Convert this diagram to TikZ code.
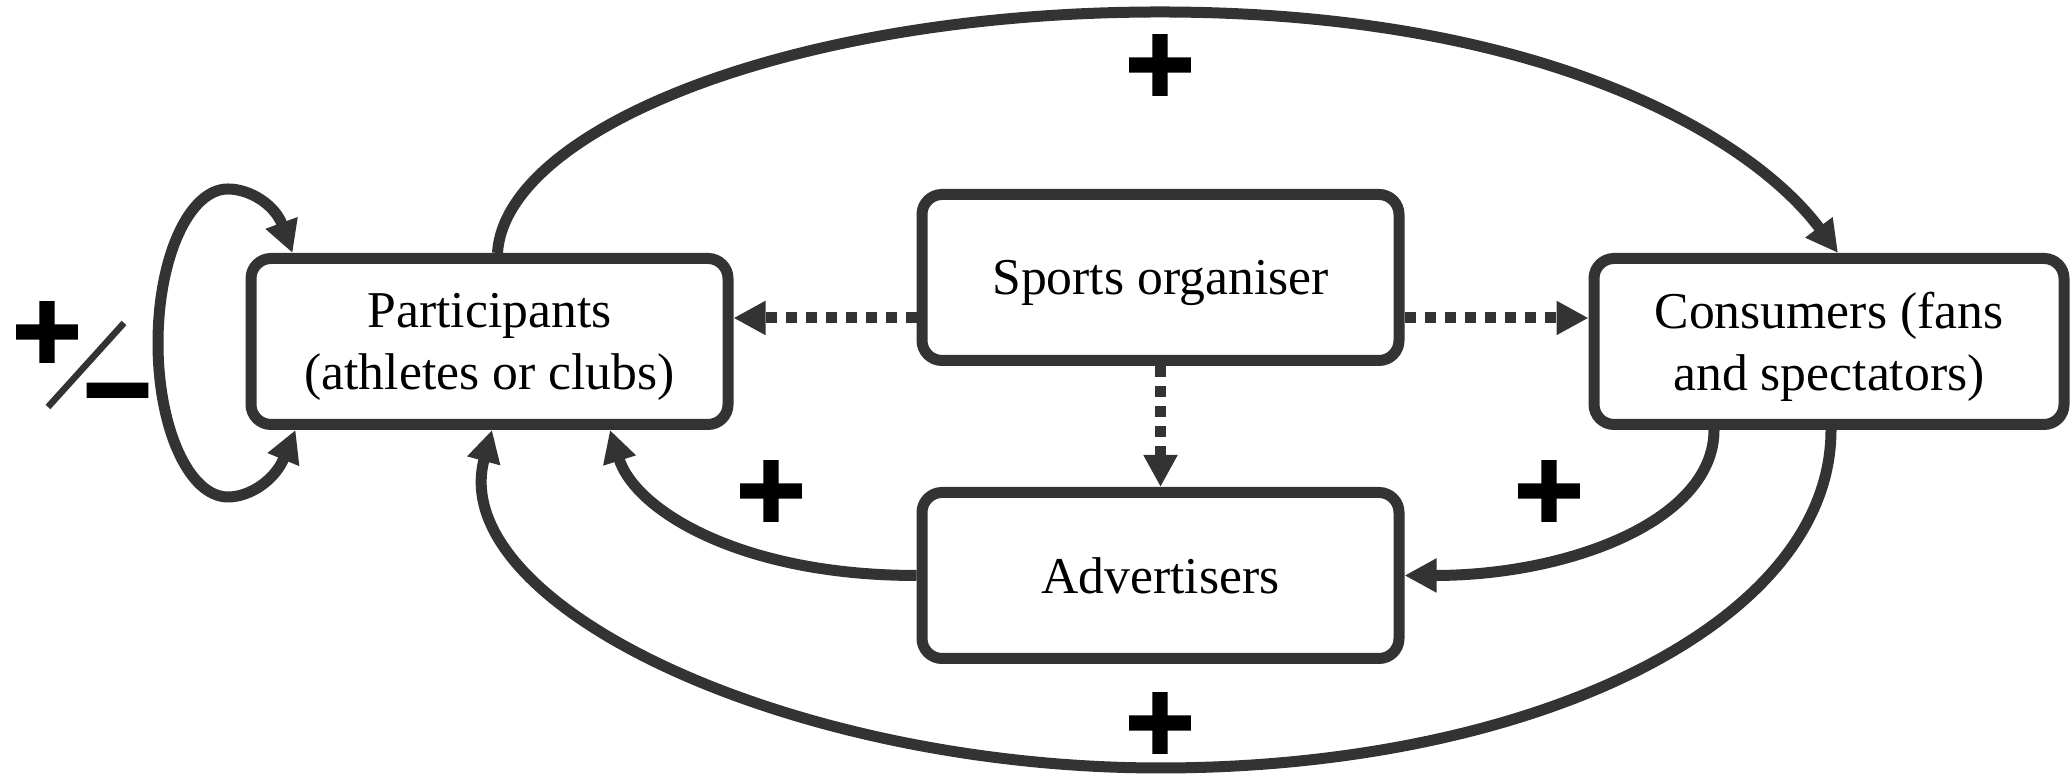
\documentclass[tikz,border=0pt]{standalone}
\usepackage{fontspec}
\setmainfont{Liberation Serif}
\newfontfamily\signfont{DejaVu Sans}[UprightFont={* Bold}, FakeBold=5]
\usetikzlibrary{arrows.meta}
\definecolor{edgegray}{HTML}{333333}

\begin{document}
\begin{tikzpicture}[
    >={Triangle[length=0.32cm,width=0.32cm]},
    box/.style={draw=edgegray, line width=0.11cm, rounded corners=0.2cm, fill=white,
        minimum width=4.77cm, minimum height=1.66cm, align=center, text depth=0pt,
        font=\fontsize{14.7}{17.6}\selectfont},
    link/.style={draw=edgegray, line width=0.11cm, ->},
    dotlink/.style={link, dash pattern=on 0.11cm off 0.09cm},
    sign/.style={font=\signfont\fontsize{26}{26}\selectfont, inner sep=0pt}
]
    \useasboundingbox (0,0) rectangle (20.7,7.75);
    \newcommand{\midx}{11.6}
    \newcommand{\dropy}{-0.405cm}

    % actors
    \node[box] (part) at (4.895,4.335) {Participants\\(athletes or clubs)};
    \node[box] (org) at (11.605,4.975) {Sports organiser};
    \node[box] (adv) at (11.605,1.995) {Advertisers};
    \node[box, minimum width=4.70cm] (cons) at (18.29,4.335) {Consumers (fans\\and spectators)};

    % organiser links
    \draw[dotlink] ([yshift=\dropy]org.west) -- ([yshift=\dropy]org.west -| part.east);
    \draw[dotlink] ([yshift=\dropy]org.east) -- ([yshift=\dropy]org.east -| cons.west);
    \draw[dotlink] (org.south) -- (adv.north);

    % big loops
    \draw[link] ([xshift=0.08cm]part.north) .. controls (5.05,6.45) and (7.9,7.63) .. (\midx,7.63)
        .. controls (15.4,7.63) and (17.5,6.4) .. ([xshift=0.09cm]cons.north);
    \draw[link] ([xshift=0.02cm]cons.south) .. controls (18.31,1.5) and (15.3,0.07) .. (\midx,0.07)
        .. controls (7.9,0.07) and (4.45,1.7) .. ([xshift=0.025cm]part.south);

    % via advertisers
    \draw[link] (adv.west) .. controls (7.4,1.995) and (6.35,2.65) .. ([xshift=1.205cm]part.south);
    \draw[link] ([xshift=-1.15cm]cons.south) .. controls (17.14,2.55) and (15.7,1.995) .. (adv.east);

    % self loop
    \draw[link, <->] ([xshift=-1.94cm]part.south) .. controls (2.75,2.95) and (2.5,2.78) .. (2.28,2.78)
        .. controls (1.89,2.78) and (1.58,3.47) .. (1.58,4.32)
        .. controls (1.58,5.17) and (1.89,5.86) .. (2.28,5.86)
        .. controls (2.5,5.86) and (2.75,5.7) .. ([xshift=-1.97cm]part.north);

    % signs
    \node[sign] (plustop) at (\midx,7.10) {+};
    \node[sign] (plusleft) at (7.71,2.84) {+};
    \node[sign] (plusright) at (15.49,2.84) {+};
    \node[sign] (plusbottom) at (\midx,0.52) {+};
    \node[sign] (pmplus) at (0.47,4.43) {+};
    \node[sign] (pmminus) at (1.175,3.73) {−};
    \draw[edgegray, line width=0.065cm] (0.48,3.68) -- (1.24,4.52);
\end{tikzpicture}
\end{document}
